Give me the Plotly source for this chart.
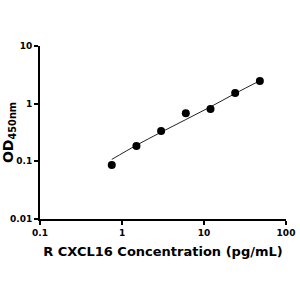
import plotly.graph_objects as go

conc = [0.75, 1.5, 3, 6, 12, 24, 48]
od = [0.086, 0.185, 0.335, 0.68, 0.81, 1.53, 2.47]
fit_conc = [0.75, 1.5, 3, 6, 12, 24, 48]
fit_od = [0.108, 0.19, 0.32, 0.53, 0.88, 1.5, 2.5]
x_ticks = [0.1, 1, 10, 100]
x_tick_labels = ["0.1", "1", "10", "100"]
y_ticks = [0.01, 0.1, 1, 10]
y_tick_labels = ["0.01", "0.1", "1", "10"]

fig = go.Figure()
fig.add_trace(go.Scatter(x=fit_conc, y=fit_od, mode="lines",
                         line=dict(color="#222", width=1, shape="spline"),
                         hoverinfo="skip", showlegend=False))
fig.add_trace(go.Scatter(x=conc, y=od, mode="markers",
                         marker=dict(color="black", size=8),
                         showlegend=False))

font = "DejaVu Sans"
fig.update_layout(
    width=300, height=300,
    margin=dict(l=40, r=14, t=46, b=81),
    plot_bgcolor="white", paper_bgcolor="white",
    font=dict(family=font, color="black"),
    xaxis=dict(type="log", range=[-1, 2], tickvals=x_ticks,
               ticktext=[f"<b>{t}</b>" for t in x_tick_labels],
               showgrid=False, zeroline=False, showline=True,
               linecolor="black", linewidth=2, ticks="outside",
               ticklen=4, tickwidth=2, tickcolor="black",
               tickfont=dict(size=9, family=font), automargin=False,
               title=dict(text="<b>R CXCL16 Concentration (pg/mL)</b>",
                          font=dict(size=13, family=font), standoff=10)),
    yaxis=dict(type="log", range=[-2, 1], tickvals=y_ticks,
               ticktext=[f"<b>{t}</b>" for t in y_tick_labels],
               showgrid=False, zeroline=False, showline=True,
               linecolor="black", linewidth=2, ticks="outside",
               ticklen=4, tickwidth=2, tickcolor="black",
               tickfont=dict(size=9, family=font), automargin=False,
               title=dict(text="<b>OD<sub>450nm</sub></b>",
                          font=dict(size=14, family=font), standoff=2)),
)
fig.write_html("out.html")
